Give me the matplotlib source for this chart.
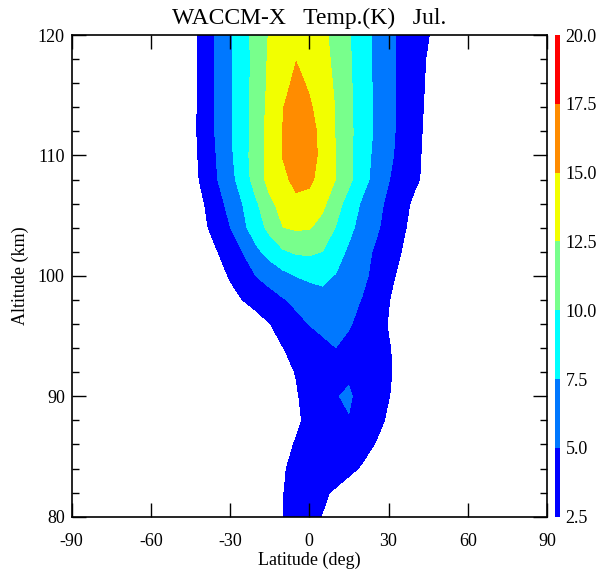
import matplotlib
matplotlib.use("Agg")
import numpy as np
import matplotlib.pyplot as plt

plt.rcParams['font.family'] = ['Liberation Serif', 'DejaVu Serif']
plt.rcParams['axes.unicode_minus'] = False

# Grid: latitude (deg) and altitude (km)
lat = [-50, -45, -40, -35, -30, -25, -20, -15, -10, -5, 0,
       5, 10, 15, 20, 25, 30, 35, 40, 45, 50]
alt = [80, 82, 84, 86, 88, 90, 92, 94, 96, 98, 100,
       102, 104, 106, 108, 110, 112, 114, 116, 118, 120]

# Temperature amplitude (K), one row per altitude, estimated from the plot
t080 = [0.0, 0.2, 0.5, 0.85, 1.2, 1.5, 1.8, 2.15, 2.48, 2.81, 2.84, 2.45, 2.06, 1.67, 1.28, 0.9, 0.5, 0.1, 0.0, 0.0, 0.0]
t082 = [0.0, 0.0, 0.3, 0.65, 1.0, 1.38, 1.74, 2.1, 2.47, 2.84, 3.2, 2.74, 2.28, 1.82, 1.36, 0.9, 0.44, 0.0, 0.0, 0.0, 0.0]
t084 = [0.0, 0.0, 0.0, 0.0, 0.5, 0.95, 1.43, 1.9, 2.38, 2.85, 3.33, 3.8, 3.32, 2.83, 2.35, 1.86, 1.38, 0.9, 0.4, 0.0, 0.0]
t086 = [0.0, 0.0, 0.0, 0.0, 0.0, 0.5, 1.0, 1.55, 2.08, 2.61, 3.14, 3.67, 4.2, 3.62, 3.04, 2.45, 1.87, 1.3, 0.7, 0.1, 0.0]
t088 = [0.0, 0.0, 0.0, 0.0, 0.0, 0.0, 0.3, 0.9, 1.6, 2.23, 2.88, 3.53, 4.18, 4.83, 3.97, 3.1, 2.24, 1.37, 0.5, 0.0, 0.0]
t090 = [0.0, 0.0, 0.0, 0.0, 0.0, 0.0, 0.0, 0.7, 1.5, 2.33, 3.17, 4.0, 4.84, 5.4, 3.86, 3.2, 2.56, 1.9, 1.25, 0.6, 0.0]
t092 = [0.0, 0.0, 0.0, 0.0, 0.0, 0.2, 0.8, 1.4, 2.0, 2.57, 3.16, 3.75, 4.35, 4.5, 3.85, 3.25, 2.65, 2.05, 1.4, 0.8, 0.2]
t094 = [0.0, 0.0, 0.0, 0.0, 0.0, 0.5, 1.2, 1.8, 2.45, 3.1, 3.7, 4.35, 4.98, 4.4, 3.8, 3.2, 2.6, 2.0, 1.4, 0.8, 0.2]
t096 = [0.0, 0.0, 0.0, 0.0, 0.0, 0.8, 1.6, 2.45, 3.4, 4.2, 5.06, 5.65, 5.8, 5.2, 4.3, 3.4, 2.4, 1.5, 0.5, 0.0, 0.0]
t098 = [0.0, 0.0, 0.2, 1.0, 1.8, 2.55, 3.3, 4.05, 4.8, 5.6, 6.3, 7.1, 6.4, 5.7, 4.9, 3.7, 2.6, 1.4, 0.2, 0.0, 0.0]
t100 = [0.0, 0.0, 0.5, 1.6, 2.7, 3.9, 5.05, 5.9, 6.8, 7.56, 7.9, 7.8, 7.4, 6.4, 5.5, 4.4, 3.1, 1.9, 0.6, 0.0, 0.0]
t102 = [0.0, 0.0, 1.0, 2.4, 3.7, 5.1, 7.0, 8.4, 9.7, 10.3, 10.4, 9.95, 8.5, 7.1, 5.9, 4.7, 3.6, 2.45, 1.4, 0.3, 0.0]
t104 = [0.0, 0.5, 2.0, 3.5, 4.95, 7.0, 8.8, 10.7, 12.45, 12.8, 12.65, 11.7, 9.9, 8.1, 6.6, 5.4, 4.2, 2.9, 1.7, 0.5, 0.0]
t106 = [0.0, 0.8, 2.4, 4.0, 5.8, 7.6, 9.7, 12.0, 13.3, 14.4, 14.1, 13.0, 11.1, 8.9, 7.2, 5.8, 4.5, 3.3, 2.0, 0.8, 0.0]
t108 = [0.0, 1.2, 3.2, 4.9, 6.7, 8.7, 11.2, 13.3, 14.4, 15.7, 15.5, 14.0, 12.45, 10.6, 8.3, 6.8, 5.1, 3.9, 2.9, 1.8, 0.8]
t110 = [0.0, 1.4, 3.4, 5.1, 7.0, 9.2, 11.1, 13.4, 15.1, 16.3, 16.2, 14.2, 12.45, 10.6, 8.5, 7.0, 5.5, 4.2, 3.0, 1.9, 0.9]
t112 = [0.0, 1.6, 3.5, 5.3, 7.2, 9.0, 11.0, 13.4, 15.05, 16.4, 16.2, 14.0, 12.4, 10.6, 8.7, 7.2, 5.7, 4.3, 3.1, 2.0, 1.0]
t114 = [0.0, 1.5, 3.5, 5.3, 7.2, 9.0, 11.0, 13.3, 14.9, 16.3, 15.4, 13.6, 12.4, 10.5, 8.7, 7.1, 5.6, 4.4, 3.2, 2.1, 1.1]
t116 = [0.0, 1.5, 3.4, 5.3, 7.2, 9.0, 11.0, 13.0, 13.9, 15.8, 14.6, 13.4, 12.2, 10.4, 8.7, 7.1, 5.6, 4.4, 3.3, 2.2, 1.2]
t118 = [0.0, 1.5, 3.4, 5.3, 7.2, 9.0, 10.9, 12.9, 13.8, 14.9, 14.4, 13.2, 12.0, 10.3, 8.6, 7.1, 5.6, 4.4, 3.4, 2.3, 1.3]
t120 = [0.0, 1.6, 3.4, 5.3, 7.2, 9.1, 11.0, 12.7, 13.5, 14.3, 13.8, 13.0, 11.8, 10.2, 8.6, 7.1, 5.6, 4.5, 3.5, 2.6, 1.5]

temp = np.array([t080, t082, t084, t086, t088, t090, t092, t094, t096, t098, t100,
                 t102, t104, t106, t108, t110, t112, t114, t116, t118, t120])

# Contour levels and fill colours
levels = [2.5, 5.0, 7.5, 10.0, 12.5, 15.0, 17.5, 20.0]
colors = ['#0000ff', '#0078ff', '#00ffff', '#78ff8c', '#f2ff00', '#ff8c00', '#ff0000']

fig = plt.figure(figsize=(6.04, 5.71), dpi=100)
ax = fig.add_axes([0.1187, 0.0951, 0.7868, 0.8436])

cf = ax.contourf(lat, alt, temp, levels=levels, colors=colors)

ax.set_xlim(-90, 90)
ax.set_ylim(80, 120)
ax.set_xticks(range(-90, 91, 30))
ax.set_yticks(range(80, 121, 10))
ax.set_yticks(range(80, 121, 2), minor=True)
ax.tick_params(which='both', direction='in', top=True, right=True, labelsize=13, width=1)
ax.tick_params(which='major', length=10)
ax.tick_params(which='minor', length=5)
ax.tick_params(axis='x', pad=12)
ax.tick_params(axis='y', pad=5)
for s in ax.spines.values():
    s.set_linewidth(1.2)

ax.set_xlabel('Latitude (deg)', fontsize=13, labelpad=1)
ax.set_ylabel('Altitude (km)', fontsize=13, labelpad=6)
ax.set_title('WACCM-X   Temp.(K)   Jul.', fontsize=17, pad=8)

# thin colour bar on the right
cax = fig.add_axes([554.7 / 604, 0.0951, 5.3 / 604, 0.8436])
cb = fig.colorbar(cf, cax=cax, ticks=levels, format='%.1f')
cb.outline.set_visible(False)
cax.tick_params(length=0, labelsize=13, pad=4)

plt.savefig('out.png', dpi=100)
